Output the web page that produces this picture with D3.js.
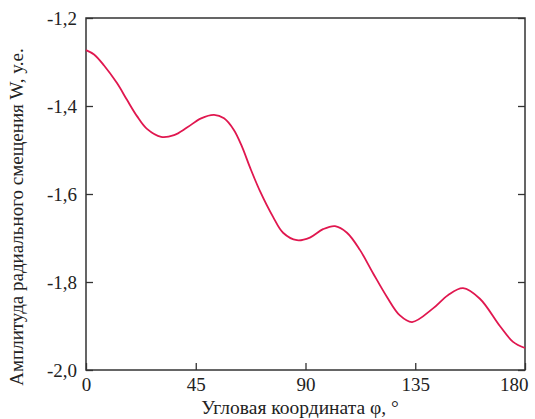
<!DOCTYPE html>
<html>
<head>
<meta charset="utf-8">
<script src="https://cdn.jsdelivr.net/npm/d3@7"></script>
<style>
  body { margin: 0; background: #fff; }
  text { font-family: "Liberation Serif", "DejaVu Serif", serif; fill: #222; }
</style>
</head>
<body>
<script>
// curve
const phi = [0, 3.3, 7.4, 12.7, 16.8, 20.9, 25.0, 30.8, 36.1, 41.4, 47.2, 52.5, 56.6, 60.7, 64.0,
             67.2, 71.3, 76.7, 80.8, 86.5, 91.8, 97.2, 102.1, 107.0, 112.3, 117.7, 123.4, 128.7, 133.7,
             142.3, 148.4, 154.6, 161.5, 169.7, 175.1, 180];
const W = [-1.273, -1.283, -1.308, -1.348, -1.386, -1.423, -1.452, -1.470, -1.466, -1.449, -1.428, -1.420, -1.428, -1.455, -1.493,
           -1.539, -1.593, -1.652, -1.688, -1.705, -1.699, -1.680, -1.673, -1.688, -1.727, -1.780, -1.834, -1.876, -1.891,
           -1.860, -1.830, -1.814, -1.838, -1.900, -1.936, -1.95];

const xTicks = [0, 45, 90, 135, 180];
const yTicks = [-2.0, -1.8, -1.6, -1.4, -1.2];

const xTitle = "Угловая координата φ, °";
const yTitle = "Амплитуда радиального смещения W, у.е.";

const width = 535;
const height = 419;
const margin = {left: 86, right: 10, top: 18, bottom: 49};

const svg = d3.select('body')
  .append('svg')
  .attr('width', width)
  .attr('height', height);

const x = d3.scaleLinear().domain([0, 180]).range([margin.left, width - margin.right]);
const y = d3.scaleLinear().domain([-2.0, -1.2]).range([height - margin.bottom, margin.top]);

const fmt = (d) => d3.format('.1f')(d).replace('.', ',').replace('−', '-');

// frame
svg.append('rect')
  .attr('x', x(0))
  .attr('y', y(-1.2))
  .attr('width', x(180) - x(0))
  .attr('height', y(-2.0) - y(-1.2))
  .attr('fill', 'none')
  .attr('stroke', '#333')
  .attr('stroke-width', 1.5);

// bottom axis, ticks inward
const xAxis = svg.append('g')
  .attr('transform', `translate(0,${y(-2.0)})`)
  .call(d3.axisBottom(x).tickValues(xTicks).tickSize(-7).tickPadding(8));
xAxis.select('.domain').remove();
xAxis.selectAll('line').attr('stroke', '#333').attr('stroke-width', 1.3);
xAxis.selectAll('text').attr('font-size', 19).attr('fill', '#222')
  .style('font-family', '"Liberation Serif", serif');
// last label is pushed left to stay inside the picture
xAxis.selectAll('text').filter((d) => d === 180)
  .attr('text-anchor', 'end')
  .attr('x', 3);

// left axis, ticks inward
const yAxis = svg.append('g')
  .attr('transform', `translate(${x(0)},0)`)
  .call(d3.axisLeft(y).tickValues(yTicks).tickSize(-7).tickPadding(9).tickFormat(fmt));
yAxis.select('.domain').remove();
yAxis.selectAll('line').attr('stroke', '#333').attr('stroke-width', 1.3);
yAxis.selectAll('text').attr('font-size', 19).attr('fill', '#222')
  .style('font-family', '"Liberation Serif", serif');

// right axis ticks, no labels
const yRight = svg.append('g')
  .attr('transform', `translate(${x(180)},0)`)
  .call(d3.axisRight(y).tickValues(yTicks).tickSize(-7).tickFormat(''));
yRight.select('.domain').remove();
yRight.selectAll('line').attr('stroke', '#333').attr('stroke-width', 1.3);

// curve
const line = d3.line()
  .x((d, i) => x(phi[i]))
  .y((d) => y(d))
  .curve(d3.curveCatmullRom.alpha(0.5));

svg.append('path')
  .datum(W)
  .attr('d', line)
  .attr('fill', 'none')
  .attr('stroke', '#e0174f')
  .attr('stroke-width', 1.8);

// axis titles
svg.append('text')
  .attr('x', 300)
  .attr('y', 414)
  .attr('text-anchor', 'middle')
  .attr('font-size', 19.5)
  .text(xTitle);

svg.append('text')
  .attr('transform', 'translate(23,217) rotate(-90)')
  .attr('text-anchor', 'middle')
  .attr('font-size', 19)
  .text(yTitle);
</script>
</body>
</html>
